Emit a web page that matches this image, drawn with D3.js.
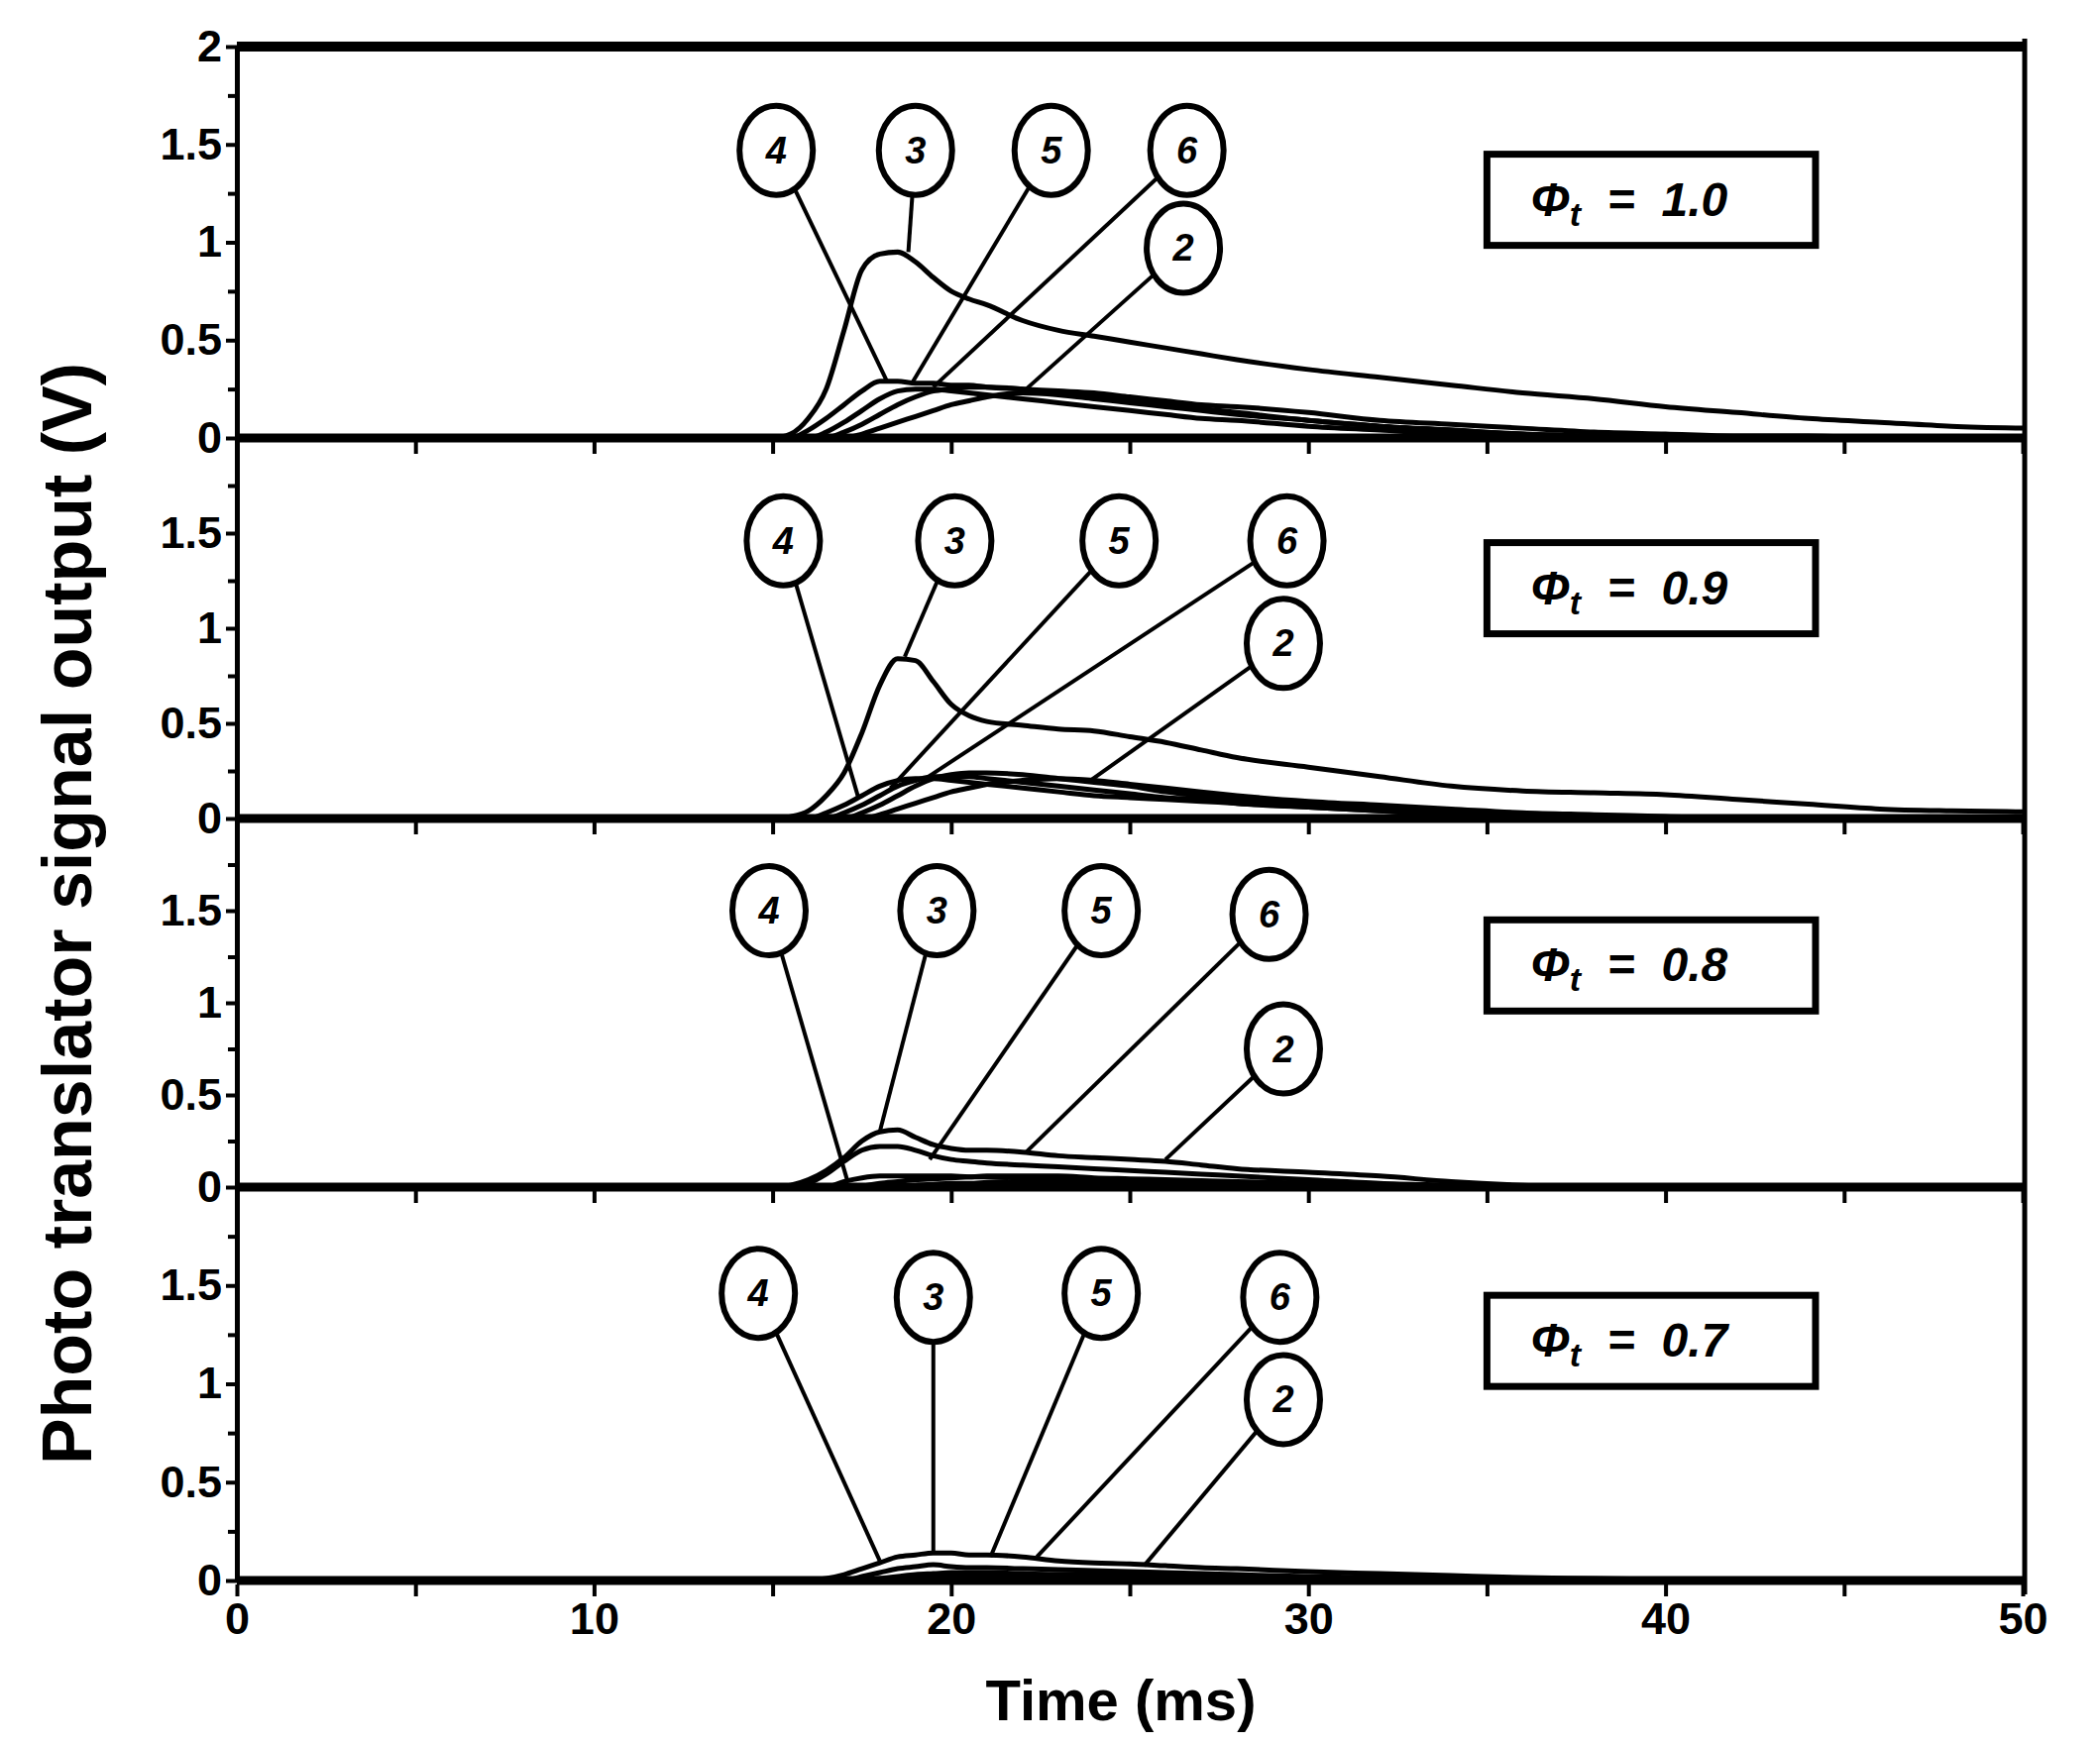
<!DOCTYPE html>
<html>
<head>
<meta charset="utf-8">
<script src="https://cdn.jsdelivr.net/npm/d3@7"></script>
<style>
  html, body { margin: 0; padding: 0; background: #fff; }
  svg { display: block; }
</style>
</head>
<body>
<svg id="chart"></svg>
<script>
// shared time grid (ms) for every trace
const timeMs = [0, 14, 15, 15.5, 16, 16.5, 17, 17.5, 18, 18.5, 19, 19.5, 20, 20.5, 21, 22, 23, 24, 25, 26, 27, 28, 30, 32, 34, 36, 38, 40, 42, 44, 46, 48, 50];

const curveIds = ['3', '4', '5', '6', '2'];
const phiValues = ['1.0', '0.9', '0.8', '0.7'];

const xTicks = [0, 5, 10, 15, 20, 25, 30, 35, 40, 45, 50];
const xTickLabels = [0, 10, 20, 30, 40, 50];
const yMajorTop = [0, 0.5, 1, 1.5, 2];
const yMajor = [0, 0.5, 1, 1.5];
const yMinor = [0.25, 0.75, 1.25, 1.75];

// photo transistor output (V), one row per curve in curveIds order
const phi10Curves = [
  [0,0,0,0.02,0.1,0.25,0.55,0.86,0.94,0.95,0.9,0.82,0.75,0.71,0.68,0.6,0.55,0.52,0.49,0.46,0.43,0.4,0.35,0.31,0.27,0.23,0.2,0.16,0.13,0.1,0.08,0.06,0.05],
  [0,0,0,0,0.04,0.1,0.17,0.24,0.29,0.29,0.28,0.28,0.27,0.27,0.26,0.25,0.24,0.23,0.21,0.19,0.17,0.16,0.13,0.09,0.07,0.05,0.03,0.02,0.01,0.01,0,0,0],
  [0,0,0,0,0,0.03,0.08,0.14,0.2,0.24,0.25,0.25,0.24,0.23,0.22,0.2,0.18,0.16,0.14,0.12,0.1,0.09,0.06,0.04,0.02,0.01,0,0,0,0,0,0,0],
  [0,0,0,0,0,0,0.03,0.07,0.12,0.17,0.21,0.24,0.25,0.26,0.26,0.25,0.23,0.21,0.19,0.17,0.15,0.13,0.09,0.06,0.04,0.02,0.01,0,0,0,0,0,0],
  [0,0,0,0,0,0,0,0.02,0.05,0.08,0.11,0.14,0.17,0.19,0.21,0.23,0.22,0.2,0.18,0.16,0.14,0.12,0.09,0.06,0.04,0.02,0.01,0,0,0,0,0,0]
];
const phi09Curves = [
  [0,0,0,0.01,0.04,0.12,0.24,0.45,0.7,0.84,0.83,0.72,0.6,0.54,0.51,0.49,0.47,0.46,0.43,0.4,0.36,0.32,0.27,0.22,0.17,0.145,0.135,0.125,0.1,0.075,0.05,0.04,0.035],
  [0,0,0,0,0,0.03,0.07,0.12,0.17,0.2,0.21,0.21,0.2,0.19,0.18,0.16,0.14,0.12,0.11,0.1,0.09,0.08,0.06,0.04,0.02,0.01,0,0,0,0,0,0,0],
  [0,0,0,0,0,0,0.03,0.07,0.12,0.17,0.2,0.22,0.22,0.22,0.21,0.19,0.17,0.15,0.13,0.11,0.1,0.08,0.06,0.04,0.02,0.01,0,0,0,0,0,0,0],
  [0,0,0,0,0,0,0,0.03,0.07,0.12,0.17,0.21,0.23,0.24,0.24,0.23,0.21,0.19,0.17,0.14,0.12,0.1,0.08,0.06,0.04,0.02,0.01,0,0,0,0,0,0],
  [0,0,0,0,0,0,0,0,0.02,0.05,0.08,0.11,0.14,0.16,0.18,0.2,0.21,0.2,0.18,0.16,0.14,0.12,0.09,0.07,0.05,0.03,0.02,0.01,0,0,0,0,0]
];
const phi08Curves = [
  [0,0,0,0.01,0.04,0.09,0.16,0.25,0.3,0.31,0.27,0.23,0.21,0.2,0.2,0.19,0.17,0.16,0.15,0.14,0.12,0.1,0.08,0.06,0.03,0.01,0,0,0,0,0,0,0],
  [0,0,0,0,0,0,0.03,0.05,0.06,0.06,0.06,0.06,0.06,0.055,0.055,0.05,0.05,0.045,0.04,0.035,0.03,0.02,0.01,0,0,0,0,0,0,0,0,0,0],
  [0,0,0,0,0.02,0.07,0.14,0.2,0.22,0.22,0.2,0.17,0.15,0.14,0.13,0.12,0.11,0.1,0.09,0.08,0.07,0.06,0.04,0.02,0.01,0,0,0,0,0,0,0,0],
  [0,0,0,0,0,0,0,0.005,0.02,0.03,0.04,0.045,0.05,0.055,0.06,0.06,0.06,0.05,0.045,0.04,0.035,0.03,0.02,0.01,0,0,0,0,0,0,0,0,0],
  [0,0,0,0,0,0,0,0,0,0,0.01,0.015,0.02,0.02,0.025,0.03,0.03,0.03,0.03,0.03,0.025,0.02,0.01,0,0,0,0,0,0,0,0,0,0]
];
const phi07Curves = [
  [0,0,0,0,0,0.01,0.03,0.06,0.09,0.12,0.13,0.14,0.14,0.13,0.13,0.12,0.1,0.09,0.085,0.075,0.065,0.06,0.045,0.035,0.025,0.015,0.01,0.005,0,0,0,0,0],
  [0,0,0,0,0,0,0,0,0.01,0.02,0.03,0.035,0.04,0.04,0.04,0.035,0.03,0.03,0.025,0.02,0.02,0.015,0.01,0,0,0,0,0,0,0,0,0,0],
  [0,0,0,0,0,0,0,0.02,0.04,0.06,0.07,0.08,0.07,0.065,0.065,0.06,0.055,0.05,0.045,0.04,0.035,0.03,0.02,0.015,0.01,0.005,0,0,0,0,0,0,0],
  [0,0,0,0,0,0,0,0,0,0.005,0.01,0.015,0.02,0.02,0.025,0.03,0.03,0.03,0.03,0.025,0.02,0.02,0.012,0.008,0.005,0.003,0,0,0,0,0,0,0],
  [0,0,0,0,0,0,0,0,0,0,0,0.005,0.01,0.01,0.012,0.015,0.018,0.02,0.02,0.02,0.018,0.015,0.01,0.008,0.005,0.003,0.002,0,0,0,0,0,0]
];

// callouts: [label, bubble t, bubble V, leader end t, leader end V]
const phi10Callouts = [['4',15.1,1.47,18.2,0.29],['3',19.0,1.47,18.8,0.95],['5',22.8,1.47,18.9,0.28],['6',26.6,1.47,19.5,0.26],['2',26.5,0.97,22.1,0.25]];
const phi09Callouts = [['4',15.3,1.46,17.4,0.11],['3',20.1,1.46,18.7,0.85],['5',24.7,1.46,18.3,0.16],['6',29.4,1.46,19.2,0.2],['2',29.3,0.92,23.9,0.2]];
const phi08Callouts = [['4',14.9,1.50,17.1,0.03],['3',19.6,1.50,18.0,0.3],['5',24.2,1.50,19.4,0.15],['6',28.9,1.48,22.1,0.19],['2',29.3,0.75,26.0,0.15]];
const phi07Callouts = [['4',14.6,1.46,18.0,0.1],['3',19.5,1.44,19.5,0.14],['5',24.2,1.46,21.1,0.12],['6',29.2,1.44,22.4,0.12],['2',29.3,0.92,25.4,0.075]];

class StackedTraces {
    constructor(_config, _panels) {
        this.config = {
            parentElement: _config.parentElement,
            containerWidth: _config.containerWidth || 2119,
            containerHeight: _config.containerHeight || 1760,
            plotLeft: 239,
            plotRight: 2043,
            plotTop: 47,
            panelBottoms: [442, 826, 1198, 1595],
            font: '"Liberation Sans", Arial, sans-serif'
        };
        this.panels = _panels;
        this.initVis();
    }

    initVis() {
        let vis = this;
        vis.svg = d3.select(vis.config.parentElement)
            .attr('width', vis.config.containerWidth)
            .attr('height', vis.config.containerHeight)
            .style('font-family', vis.config.font);

        vis.svg.append('rect')
            .attr('width', vis.config.containerWidth)
            .attr('height', vis.config.containerHeight)
            .attr('fill', '#fff');

        vis.xScale = d3.scaleLinear().domain([0, 50])
            .range([vis.config.plotLeft, vis.config.plotRight - 2]);

        vis.line = d3.line()
            .x(d => vis.xScale(d[0]))
            .curve(d3.curveMonotoneX);

        vis.renderVis();
    }

    renderVis() {
        let vis = this;
        const bottoms = vis.config.panelBottoms;

        vis.panels.forEach((panel, i) => {
            const top = i === 0 ? vis.config.plotTop : bottoms[i - 1];
            const yScale = d3.scaleLinear().domain([0, 2]).range([bottoms[i], top]);
            const g = vis.svg.append('g').attr('class', 'panel');
            const isLast = i === vis.panels.length - 1;

            // traces
            const traces = panel.curves.map(vals => timeMs.map((t, k) => [t, vals[k]]));
            g.selectAll('path.trace')
                .data(traces)
                .join('path')
                .attr('class', 'trace')
                .attr('fill', 'none')
                .attr('stroke', '#000')
                .attr('stroke-width', 5)
                .attr('stroke-linejoin', 'round')
                .attr('d', d => vis.line.y(p => yScale(p[1]))(d));

            // y axis (major + minor)
            const yAxisG = g.append('g')
                .attr('transform', `translate(${vis.config.plotLeft},0)`)
                .call(d3.axisLeft(yScale)
                    .tickValues(i === 0 ? yMajorTop : yMajor)
                    .tickFormat(d3.format('~g'))
                    .tickSize(11).tickPadding(4).tickSizeOuter(0));
            yAxisG.select('.domain').attr('stroke-width', 5);
            yAxisG.selectAll('.tick line').attr('stroke-width', 4);
            yAxisG.selectAll('text')
                .attr('font-family', vis.config.font)
                .attr('font-size', 45).attr('font-weight', 700);

            const yMinorG = g.append('g')
                .attr('transform', `translate(${vis.config.plotLeft},0)`)
                .call(d3.axisLeft(yScale).tickValues(yMinor).tickFormat('').tickSize(9).tickSizeOuter(0));
            yMinorG.select('.domain').remove();
            yMinorG.selectAll('.tick line').attr('stroke-width', 4);

            // x axis on every panel baseline, labels on the last one only
            const xAxisG = g.append('g')
                .attr('transform', `translate(0,${bottoms[i] + 4})`)
                .call(d3.axisBottom(vis.xScale)
                    .tickValues(xTicks)
                    .tickFormat(d => (isLast && xTickLabels.includes(d)) ? d : '')
                    .tickSize(12).tickPadding(6).tickSizeOuter(0));
            xAxisG.select('.domain').remove();
            xAxisG.selectAll('.tick line').attr('stroke-width', 4);
            xAxisG.selectAll('text')
                .attr('font-family', vis.config.font)
                .attr('font-size', 45).attr('font-weight', 700);

            // thick baseline of the panel
            g.append('line')
                .attr('x1', vis.config.plotLeft).attr('x2', vis.config.plotRight)
                .attr('y1', bottoms[i]).attr('y2', bottoms[i])
                .attr('stroke', '#000').attr('stroke-width', 9);

            // callout leaders and bubbles
            const rx = 37, ry = 45;
            const callouts = panel.callouts.map(c => {
                const cx = vis.xScale(c[1]), cy = yScale(c[2]);
                const tx = vis.xScale(c[3]), ty = yScale(c[4]);
                const dx = tx - cx, dy = ty - cy;
                const k = 1 / Math.sqrt((dx / rx) ** 2 + (dy / ry) ** 2);
                return {label: c[0], cx, cy, tx, ty, sx: cx + dx * k, sy: cy + dy * k};
            });

            g.selectAll('line.leader')
                .data(callouts)
                .join('line')
                .attr('class', 'leader')
                .attr('x1', d => d.sx).attr('y1', d => d.sy)
                .attr('x2', d => d.tx).attr('y2', d => d.ty)
                .attr('stroke', '#000').attr('stroke-width', 4);

            g.selectAll('ellipse.bubble')
                .data(callouts)
                .join('ellipse')
                .attr('class', 'bubble')
                .attr('cx', d => d.cx).attr('cy', d => d.cy)
                .attr('rx', rx).attr('ry', ry)
                .attr('fill', '#fff').attr('stroke', '#000').attr('stroke-width', 6);

            g.selectAll('text.bubble-label')
                .data(callouts)
                .join('text')
                .attr('class', 'bubble-label')
                .attr('x', d => d.cx).attr('y', d => d.cy + 13)
                .attr('text-anchor', 'middle')
                .attr('font-size', 38).attr('font-weight', 700).attr('font-style', 'italic')
                .text(d => d.label);

            // phi_t box
            const bx = vis.xScale(35), by = yScale(1.45);
            const bw = vis.xScale(44.2) - bx, bh = 92;
            g.append('rect')
                .attr('x', bx).attr('y', by)
                .attr('width', bw).attr('height', bh)
                .attr('fill', '#fff').attr('stroke', '#000').attr('stroke-width', 7);

            const label = g.append('text')
                .attr('x', bx + 44).attr('y', by + 62)
                .attr('font-size', 48).attr('font-weight', 700).attr('font-style', 'italic')
                .attr('xml:space', 'preserve');
            label.append('tspan').text('Φ');
            label.append('tspan').attr('font-size', 34).attr('dy', 10).text('t');
            label.append('tspan').attr('dy', -10).text('  =  ' + panel.phi);
        });

        // frame: top edge and right edge
        vis.svg.append('line')
            .attr('x1', vis.config.plotLeft).attr('x2', vis.config.plotRight)
            .attr('y1', vis.config.plotTop).attr('y2', vis.config.plotTop)
            .attr('stroke', '#000').attr('stroke-width', 10);
        vis.svg.append('line')
            .attr('x1', vis.config.plotRight).attr('x2', vis.config.plotRight)
            .attr('y1', vis.config.plotTop - 8).attr('y2', bottoms[bottoms.length - 1] + 14)
            .attr('stroke', '#000').attr('stroke-width', 5);

        // axis titles
        vis.svg.append('text')
            .attr('transform', `translate(${(vis.config.plotLeft + vis.config.plotRight) / 2 - 10},1736)`)
            .attr('text-anchor', 'middle')
            .attr('font-size', 58).attr('font-weight', 700)
            .text('Time (ms)');

        vis.svg.append('text')
            .attr('transform', 'translate(92,922) rotate(-90)')
            .attr('text-anchor', 'middle')
            .attr('font-size', 70).attr('font-weight', 700)
            .text('Photo translator signal output (V)');
    }
}

const panels = [
    {phi: phiValues[0], curves: phi10Curves, callouts: phi10Callouts},
    {phi: phiValues[1], curves: phi09Curves, callouts: phi09Callouts},
    {phi: phiValues[2], curves: phi08Curves, callouts: phi08Callouts},
    {phi: phiValues[3], curves: phi07Curves, callouts: phi07Callouts}
];

new StackedTraces({parentElement: '#chart'}, panels);
</script>
</body>
</html>
